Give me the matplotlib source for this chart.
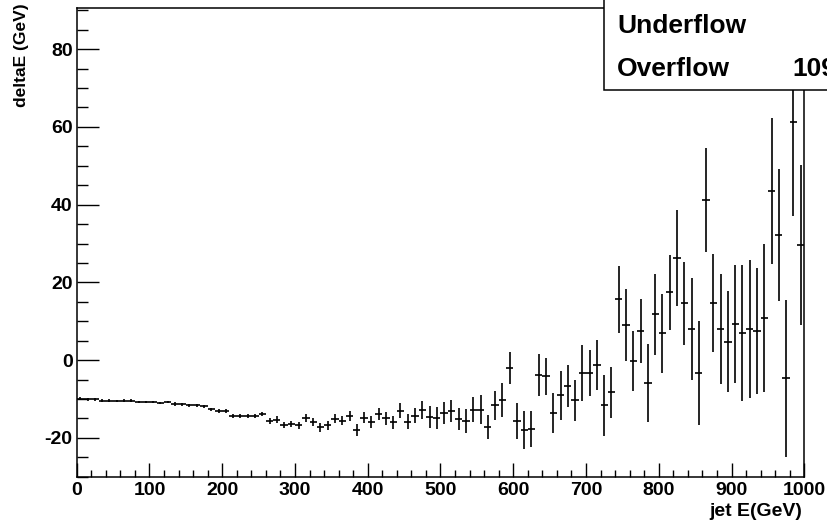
import numpy as np
import matplotlib
matplotlib.use("Agg")
from matplotlib import pyplot as plt
from matplotlib.patches import Rectangle
from matplotlib.ticker import MultipleLocator

bin_width = 10
bin_centers = np.arange(5, 1000, bin_width)
delta_e = [
    -9.9, -10.1, -10.1, -10.4, -10.4, -10.6, -10.4, -10.4, -10.7, -10.7,
    -10.7, -11.0, -10.8, -11.3, -11.4, -11.6, -11.6, -11.9, -12.6, -13.1,
    -13.1, -14.4, -14.4, -14.4, -14.4, -13.9, -15.7, -15.3, -16.7, -16.5,
    -16.8, -14.8, -15.9, -17.3, -16.8, -15.1, -15.6, -14.3, -17.9, -14.8,
    -16.0, -13.9, -15.0, -16.0, -13.0, -15.8, -14.3, -12.8, -14.6, -14.9,
    -13.6, -13.1, -15.2, -15.7, -12.8, -12.8, -17.2, -11.6, -10.3, -2.1,
    -15.6, -18.0, -17.7, -3.8, -4.2, -13.6, -9.1, -6.7, -10.3, -3.3,
    -3.3, -1.3, -11.6, -8.3, 15.7, 9.0, -0.2, 7.5, -5.9, 11.8,
    6.9, 17.4, 26.2, 14.6, 8.0, -3.4, 41.2, 14.6, 8.0, 4.7,
    9.3, 7.1, 8.0, 7.5, 10.8, 43.6, 32.2, -4.7, 61.2, 29.7,
]
delta_e_err = [
    0.3, 0.3, 0.3, 0.3, 0.3, 0.3, 0.3, 0.3, 0.3, 0.3,
    0.3, 0.3, 0.3, 0.4, 0.4, 0.4, 0.4, 0.4, 0.4, 0.4,
    0.5, 0.5, 0.5, 0.5, 0.5, 0.6, 0.8, 0.8, 0.8, 0.8,
    0.8, 1.0, 1.0, 1.1, 1.1, 1.2, 1.2, 1.3, 1.5, 1.5,
    1.5, 1.6, 1.6, 1.7, 1.9, 1.9, 2.0, 2.4, 2.9, 2.8,
    2.9, 2.8, 2.8, 3.1, 3.2, 3.7, 3.2, 3.7, 4.3, 4.1,
    4.6, 5.0, 4.7, 5.5, 4.8, 5.1, 6.4, 5.4, 5.3, 7.1,
    6.0, 6.4, 7.8, 6.6, 8.6, 9.2, 7.7, 8.2, 10.0, 10.4,
    10.1, 9.7, 12.4, 10.6, 13.0, 13.4, 13.3, 12.6, 14.2, 13.0,
    15.2, 17.5, 17.8, 16.2, 19.0, 18.8, 16.9, 20.2, 24.2, 20.6,
]
stats_labels = ["Underflow", "Overflow"]
stats_values = ["", "109"]

plt.rcParams['font.family'] = ['Liberation Sans', 'DejaVu Sans']
plt.rcParams['font.weight'] = 'bold'
plt.rcParams['axes.unicode_minus'] = False

fig = plt.figure(figsize=(8.28, 5.28), dpi=100)
ax = fig.add_axes([76.7/828, 1-476.7/528, (804.3-76.7)/828, (476.7-8)/528])

ax.errorbar(bin_centers, delta_e, xerr=bin_width/2, yerr=delta_e_err,
            fmt='none', ecolor='black', elinewidth=1.2, capsize=0)

ax.set_xlim(0, 1000)
ax.set_ylim(-30, 90.6)
ax.xaxis.set_major_locator(MultipleLocator(100))
ax.xaxis.set_minor_locator(MultipleLocator(20))
ax.yaxis.set_major_locator(MultipleLocator(20))
ax.yaxis.set_minor_locator(MultipleLocator(5))
ax.tick_params(axis='x', which='major', direction='in', length=10, width=1.0,
               labelsize=14, pad=4)
ax.tick_params(axis='x', which='minor', direction='in', length=5, width=1.0)
ax.tick_params(axis='y', which='major', direction='in', length=16, width=1.0,
               labelsize=14, pad=3)
ax.tick_params(axis='y', which='minor', direction='in', length=8, width=1.0)
for label in ax.get_xticklabels() + ax.get_yticklabels():
    label.set_fontweight('bold')
for s in ax.spines.values():
    s.set_linewidth(1.1)

fig.text(22/828, 1-3/528, "deltaE (GeV)", rotation=90, ha='center', va='top',
         fontsize=12.5, fontweight='bold')
fig.text(802/828, 1-512/528, "jet E(GeV)", ha='right', va='center',
         fontsize=14, fontweight='bold')

# stats box, cut off at the top right like the original
fig.patches.append(Rectangle((604/828, 1-90/528), 0.3, 0.3, transform=fig.transFigure,
                             facecolor='white', edgecolor='black', linewidth=1.1,
                             zorder=5))
for i, (name, val) in enumerate(zip(stats_labels, stats_values)):
    yb = 1 - (33.3 + 42.7*i)/528
    fig.text(617/828, yb, name, ha='left', va='baseline', fontsize=19,
             fontweight='bold', zorder=6)
    if val:
        fig.text(792.7/828, yb, val, ha='left', va='baseline', fontsize=19,
                 fontweight='bold', zorder=6)

fig.savefig("out.png", dpi=100, facecolor='white')
